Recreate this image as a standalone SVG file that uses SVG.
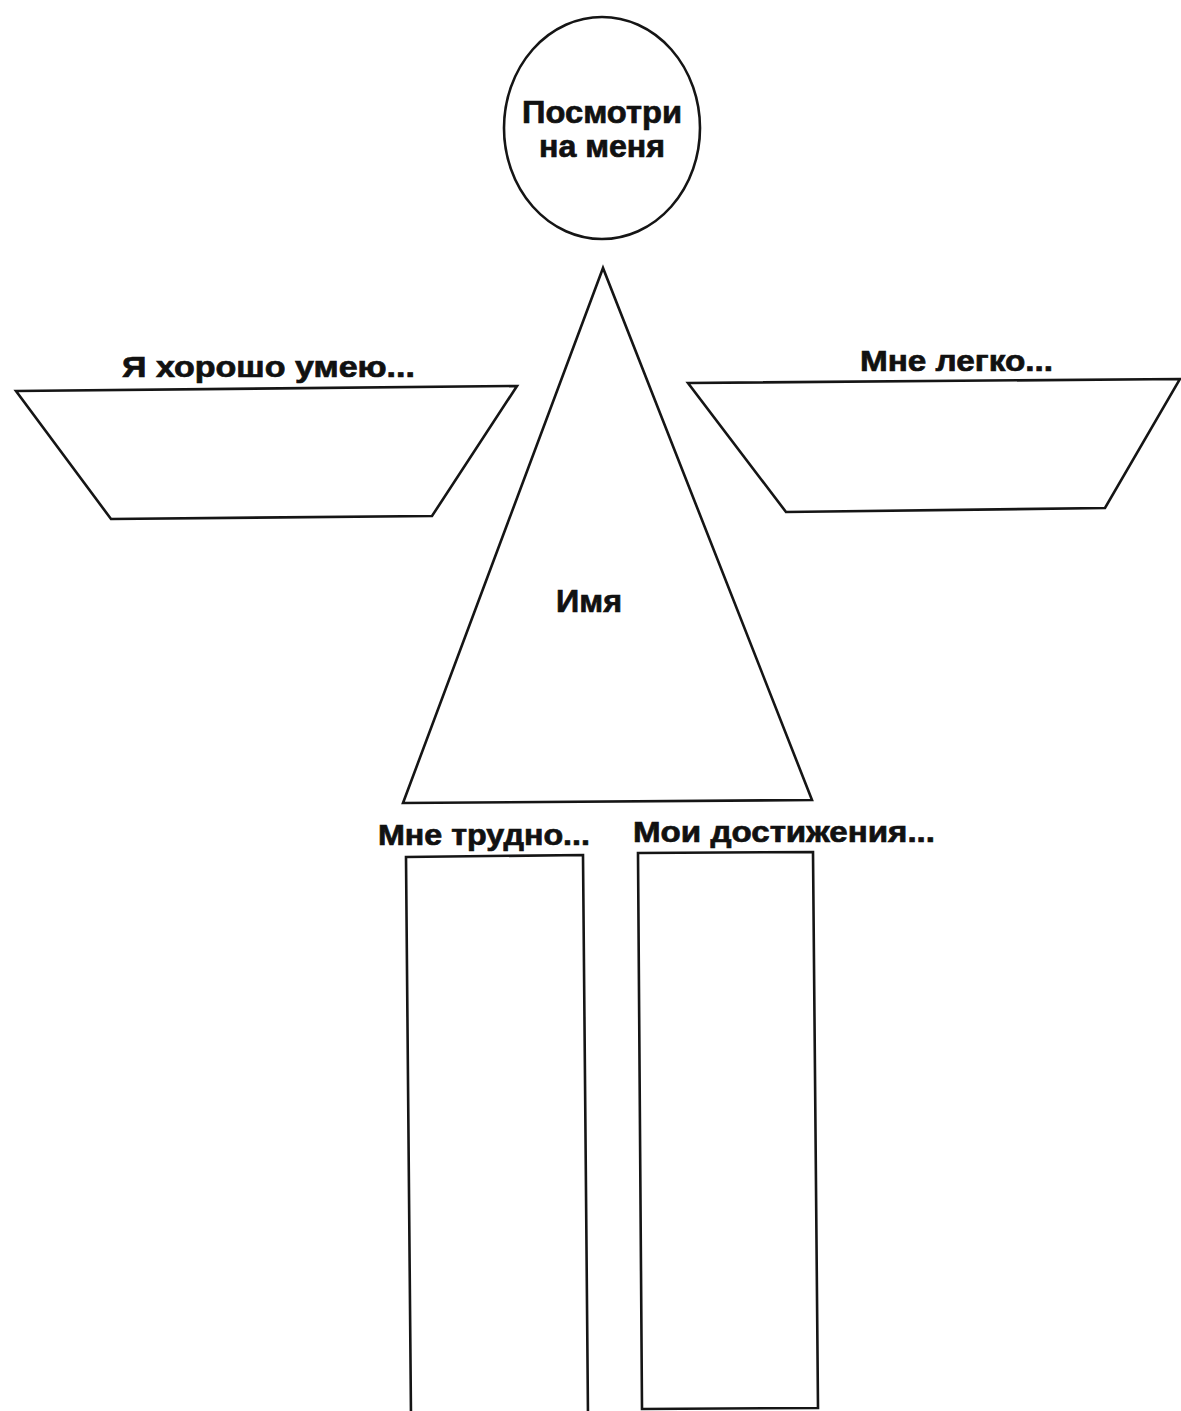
<svg xmlns="http://www.w3.org/2000/svg" width="1181" height="1411" viewBox="0 0 1181 1411">
<style>
.shape{fill:#fff;stroke:#151515;stroke-width:2.6;stroke-linejoin:miter}
.lbl{font-family:"Liberation Sans",Arial,sans-serif;font-weight:bold;fill:#111;stroke:#111;stroke-width:0.7}
</style>
<rect width="1181" height="1411" fill="#fff"/>
<g id="head">
<ellipse class="shape" cx="602" cy="128" rx="98" ry="111"/>
<text class="lbl" x="602" y="123" font-size="31" text-anchor="middle" textLength="160" lengthAdjust="spacingAndGlyphs">Посмотри</text>
<text class="lbl" x="602" y="157" font-size="31" text-anchor="middle" textLength="126" lengthAdjust="spacingAndGlyphs">на меня</text>
</g>
<g id="body">
<polygon class="shape" points="603,268 403,803 812,800"/>
<text class="lbl" x="589" y="612" font-size="32" text-anchor="middle" textLength="66" lengthAdjust="spacingAndGlyphs">Имя</text>
</g>
<g id="left-arm">
<polygon class="shape" points="16,391 517,386 432,516 111,519"/>
<text class="lbl" x="122" y="377" font-size="29" textLength="293" lengthAdjust="spacingAndGlyphs">Я хорошо умею...</text>
</g>
<g id="right-arm">
<polygon class="shape" points="688,383 1180,379 1105,508 786,512"/>
<text class="lbl" x="860" y="371" font-size="29" textLength="193" lengthAdjust="spacingAndGlyphs">Мне легко...</text>
</g>
<g id="left-leg">
<polygon class="shape" points="406,857 583,855 588,1416 411,1416"/>
<text class="lbl" x="378" y="845" font-size="29" textLength="212" lengthAdjust="spacingAndGlyphs">Мне трудно...</text>
</g>
<g id="right-leg">
<polygon class="shape" points="638,853 813,852 818,1408 642,1409"/>
<text class="lbl" x="633" y="842" font-size="29" textLength="302" lengthAdjust="spacingAndGlyphs">Мои достижения...</text>
</g>
<g id="connectors"></g>
</svg>
